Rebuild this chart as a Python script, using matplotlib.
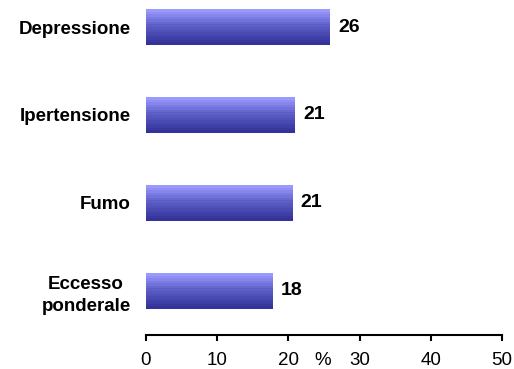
import numpy as np
import matplotlib
matplotlib.use("Agg")
import matplotlib.pyplot as plt
from matplotlib.colors import LinearSegmentedColormap

# --- dati ---
categorie = ['Depressione', 'Ipertensione', 'Fumo', 'Eccesso\nponderale']
valori = [25.8, 20.9, 20.5, 17.7]
etichette = ['26', '21', '21', '18']
xticks = [0, 10, 20, 30, 40, 50]

plt.rcParams['font.family'] = ['Liberation Sans', 'DejaVu Sans']

fig = plt.figure(figsize=(5.14, 3.69), dpi=100)
ax = fig.add_axes([0.284, 0.092, 0.693, 0.908])

# sfumatura: chiaro in alto, scuro in basso
cmap = LinearSegmentedColormap.from_list('grad', ['#333399', '#5a5ac4', '#9999ff'])
grad = np.linspace(0, 1, 14).reshape(-1, 1)

pos = np.arange(len(categorie))[::-1]
h = 0.41
bars = ax.barh(pos, valori, height=h, color='none', edgecolor='none')
for b, y, v in zip(bars, pos, valori):
    im = ax.imshow(grad, cmap=cmap, aspect='auto', origin='lower',
                   extent=[0, v, y - h / 2, y + h / 2], interpolation='nearest')
    im.set_clip_path(b)

for y, v, t in zip(pos, valori, etichette):
    ax.annotate(t, xy=(v, y), xytext=(6, 0), textcoords='offset points',
                ha='left', va='center', fontsize=14, fontweight='bold')

ax.set_xlim(0, 50)
ax.set_ylim(-0.507, 3.31)
ax.set_yticks(pos)
ax.set_yticklabels(categorie, fontsize=13.5, fontweight='bold',
                   multialignment='center', linespacing=1.4)
ax.tick_params(axis='y', length=0, pad=11)
ax.set_xticks(xticks)
ax.tick_params(axis='x', length=4.5, width=1.5, pad=8, labelsize=13.5)

ax.annotate('%', xy=(24.8, 0), xycoords=('data', 'axes fraction'),
            xytext=(0, -12.5), textcoords='offset points',
            ha='center', va='top', fontsize=13.5)

for s in ['left', 'top', 'right']:
    ax.spines[s].set_visible(False)
ax.spines['bottom'].set_linewidth(1.5)

plt.savefig('out.png', dpi=100)
